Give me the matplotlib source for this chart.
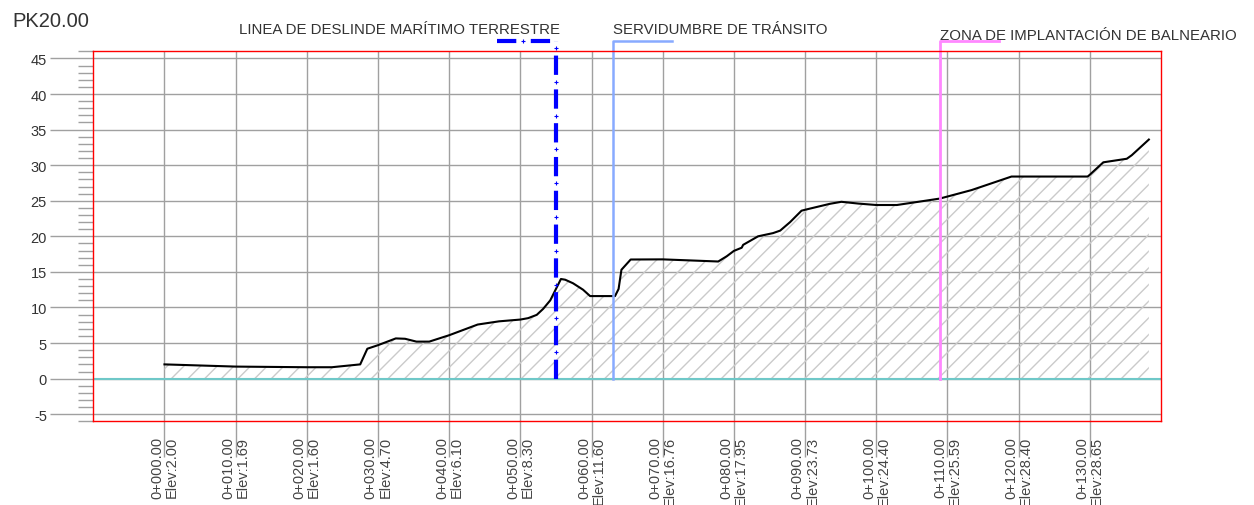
import numpy as np
import matplotlib
matplotlib.use("Agg")
import matplotlib.pyplot as plt
from matplotlib.ticker import MultipleLocator

plt.rcParams["font.family"] = ["Liberation Sans", "DejaVu Sans"]
plt.rcParams["axes.unicode_minus"] = False

# terrain profile: station (m) / elevation (m)
stations = [0, 10, 20, 23.5, 27.5, 28.5, 30, 32.5, 33.8, 35.4, 37.2, 40,
            44, 47, 50, 51.1, 52.3, 53.2, 54.2, 55, 55.7, 56.3, 57.4, 58.8,
            59.8, 60, 63.3, 63.8, 64.2, 65.5, 70, 77.8, 79, 80, 81.1, 81.3,
            83.4, 85.5, 86.5, 87.9, 89.5, 90, 93.5, 95.1, 97.5, 100, 102.9,
            108.9, 110, 113.4, 119, 120, 129.7, 130, 131.9, 135.2, 135.9, 138.3]
elevations = [2.00, 1.69, 1.60, 1.60, 2.0, 4.2, 4.70, 5.65, 5.6, 5.2, 5.2, 6.10,
              7.6, 8.05, 8.30, 8.5, 8.96, 9.8, 11.0, 12.6, 14.0, 13.9, 13.4, 12.5,
              11.6, 11.60, 11.6, 12.6, 15.3, 16.74, 16.76, 16.46, 17.2, 17.95, 18.4, 18.8,
              20.0, 20.45, 20.8, 22.0, 23.6, 23.73, 24.57, 24.85, 24.6, 24.40, 24.4,
              25.3, 25.59, 26.5, 28.4, 28.40, 28.4, 28.65, 30.4, 30.9, 31.4, 33.6]

label_stations = list(range(0, 140, 10))

# boundary lines (station)
deslinde_pk = 55.0
servidumbre_pk = 63.0
balneario_pk = 109.0
marker_top = 47.4
stub_len = 8.3

grid_c = "#a0a0a0"
txt_c = "#333333"

fig = plt.figure(figsize=(12.54, 5.06), dpi=100)
ax = fig.add_axes([0.0744, 0.1654, 0.8514, 0.7312])
ax.set_xlim(-10, 140)
ax.set_ylim(-6, 46)

ax.grid(True, which="major", color=grid_c, lw=1.0, zorder=0)
ax.set_axisbelow(True)

# hatched ground
ax.fill_between(stations, elevations, 0, facecolor="none", edgecolor="#cacaca",
                hatch="//", linewidth=0, zorder=1)
ax.plot(stations, elevations, color="black", lw=1.5, zorder=4)

ax.axhline(0, color="#6fc8c8", lw=1.5, zorder=3)

# servidumbre / balneario markers
ax.plot([servidumbre_pk, servidumbre_pk, servidumbre_pk + stub_len],
        [0, marker_top, marker_top], color="#88aaff", lw=1.8,
        clip_on=False, zorder=5)
ax.plot([balneario_pk, balneario_pk, balneario_pk + stub_len],
        [0, marker_top, marker_top], color="#ff88ff", lw=2.0,
        clip_on=False, zorder=5)

# deslinde: dash-dot with small crosses in the gaps
lw_d = 3.0
dash_on, dash_off = 4.63, 3.48
px_per_m = ax.transData.transform((1, 0))[0] - ax.transData.transform((0, 0))[0]
pt2m = fig.dpi / 72.0 / px_per_m
period = (dash_on + dash_off) * lw_d * pt2m
gap_mid = (dash_on + dash_off / 2) * lw_d * pt2m
dash_style = dict(color="#0000ff", lw=lw_d, linestyle=(0, (dash_on, dash_off)),
                  dash_capstyle="butt", clip_on=False, zorder=6)
cross_style = dict(linestyle="none", marker="+", ms=3.5, mew=0.8,
                   color="#0000ff", clip_on=False, zorder=6)

# horizontal stub, drawn left to right
ax.plot([deslinde_pk - stub_len, deslinde_pk], [marker_top, marker_top], **dash_style)
sx = np.arange(gap_mid, stub_len, period)
ax.plot(deslinde_pk - stub_len + sx, np.full_like(sx, marker_top), **cross_style)

# vertical, drawn bottom to top
ax.plot([deslinde_pk, deslinde_pk], [0, marker_top], **dash_style)
sy = np.arange(gap_mid, marker_top, period)
ax.plot(np.full_like(sy, deslinde_pk), sy, **cross_style)

# axes styling
for sp in ax.spines.values():
    sp.set_color("#ff0000")
    sp.set_linewidth(1.0)
    sp.set_zorder(7)

ax.set_yticks(range(-5, 50, 5))
ax.yaxis.set_minor_locator(MultipleLocator(1))
ax.tick_params(axis="y", which="major", length=31, width=1.0, color=grid_c,
               pad=2.4, labelsize=10.5, labelcolor=txt_c)
ax.tick_params(axis="y", which="minor", length=10.8, width=1.0, color=grid_c)

elev_at = dict(zip(stations, elevations))
xlabels = [f"0+{st:03d}.00\nElev:{elev_at[st]:.2f}" for st in label_stations]
ax.set_xticks(label_stations)
ax.set_xticklabels(xlabels)
ax.tick_params(axis="x", which="major", length=25.7, width=1.0, color=grid_c,
               pad=-15.3, labelsize=10.5, labelcolor="#444444", labelrotation=90)
for lab in ax.get_xticklabels():
    lab.set_multialignment("right")
    lab.set_linespacing(1.05)

# titles
fig.text(12 / 1254, 1 - 27.3 / 506, "PK20.00", fontsize=14.5, color=txt_c,
         va="baseline", ha="left")
ax.text(deslinde_pk + 0.5, 48.6, "LINEA DE DESLINDE MARÍTIMO TERRESTRE",
        fontsize=10.8, color=txt_c, ha="right", va="baseline", clip_on=False)
ax.text(servidumbre_pk, 48.6, "SERVIDUMBRE DE TRÁNSITO",
        fontsize=10.8, color=txt_c, ha="left", va="baseline", clip_on=False)
ax.text(balneario_pk, 47.8, "ZONA DE IMPLANTACIÓN DE BALNEARIO",
        fontsize=10.8, color=txt_c, ha="left", va="baseline", clip_on=False)

fig.savefig("out.png", dpi=100)
